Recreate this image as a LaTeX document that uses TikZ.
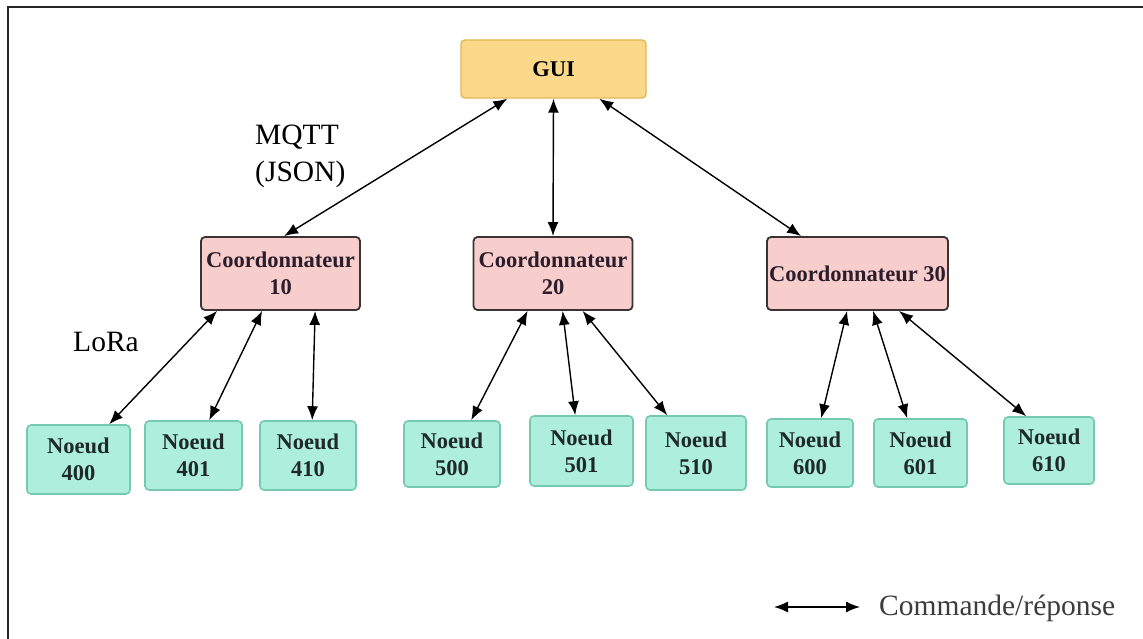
\documentclass[tikz,border=0pt]{standalone}
\usepackage{fontspec}
\setmainfont{Liberation Serif}
\usetikzlibrary{arrows.meta}
\definecolor{guifill}{HTML}{FCD98A}
\definecolor{guiline}{HTML}{E3B650}
\definecolor{cofill}{HTML}{F8CECC}
\definecolor{coline}{HTML}{3A3336}
\definecolor{cotext}{HTML}{2B1D2B}
\definecolor{ndfill}{HTML}{ADEEDD}
\definecolor{ndline}{HTML}{74C9AE}
\definecolor{ndtext}{HTML}{1F2A28}
\definecolor{legtext}{HTML}{3C3C3C}
\tikzset{
  box/.style={rectangle, rounded corners=4pt, inner sep=0pt, align=center,
    font=\fontsize{22.5}{27}\selectfont\bfseries},
  guibox/.style={box, fill=guifill, draw=guiline, line width=1.4pt},
  cobox/.style={box, fill=cofill, draw=coline, line width=1.8pt, text=cotext,
    minimum width=159pt, minimum height=73pt},
  ndbox/.style={box, fill=ndfill, draw=ndline, line width=1.6pt, text=ndtext},
  tip/.style={Latex[length=14pt,width=11pt]},
  link/.style={{Latex[length=14pt,width=11pt]}-{Latex[length=14pt,width=11pt]}, line width=1.4pt, black},
  lbl/.style={font=\fontsize{29.5}{37}\selectfont, text=black, inner sep=0pt}
}
\begin{document}
\begin{tikzpicture}[x=1pt,y=-1pt]
\useasboundingbox (0,0) rectangle (1143,639);
% frame (top and left edges)
\draw[line width=2pt, black!85] (1143,7) -- (8,7) -- (8,639);

% top level
\node[guibox, minimum width=185pt, minimum height=58pt] (gui) at (553.5,69) {GUI};

% coordinators
\node[cobox] (c10) at (280.5,273.5) {Coordonnateur\\10};
\node[cobox] (c20) at (553,273.5) {Coordonnateur\\20};
\node[cobox, minimum width=181pt] (c30) at (857.5,273.5) {Coordonnateur 30};

% end nodes
\node[ndbox, minimum width=103pt, minimum height=69pt] (n400) at (78.5,459.5) {Noeud\\400};
\node[ndbox, minimum width=97pt, minimum height=69pt] (n401) at (193.5,455.5) {Noeud\\401};
\node[ndbox, minimum width=96pt, minimum height=69pt] (n410) at (308,455.5) {Noeud\\410};
\node[ndbox, minimum width=96pt, minimum height=66pt] (n500) at (452,454) {Noeud\\500};
\node[ndbox, minimum width=103pt, minimum height=70pt] (n501) at (581.5,451) {Noeud\\501};
\node[ndbox, minimum width=100pt, minimum height=74pt] (n510) at (696,453) {Noeud\\510};
\node[ndbox, minimum width=86pt, minimum height=68pt] (n600) at (810,453) {Noeud\\600};
\node[ndbox, minimum width=93pt, minimum height=68pt] (n601) at (920.5,453) {Noeud\\601};
\node[ndbox, minimum width=90pt, minimum height=67pt] (n610) at (1049,450.5) {Noeud\\610};

% GUI <-> coordinators (MQTT)
\draw[link] ([xshift=47pt]gui.south west) -- ([xshift=84pt]c10.north west);
\draw[link] (gui.south) -- (c20.north);
\draw[link] ([xshift=139pt]gui.south west) -- ([xshift=35pt]c30.north west);

% coordinators <-> nodes (LoRa)
\draw[link] ([xshift=17pt]c10.south west) -- ([xshift=83pt]n400.north west);
\draw[link] ([xshift=62pt]c10.south west) -- ([xshift=65pt]n401.north west);
\draw[link] ([xshift=115pt]c10.south west) -- ([xshift=53pt]n410.north west);
\draw[link] ([xshift=55pt]c20.south west) -- ([xshift=68pt]n500.north west);
\draw[link] ([xshift=90pt]c20.south west) -- ([xshift=46pt]n501.north west);
\draw[link] ([xshift=110pt]c20.south west) -- ([xshift=22pt]n510.north west);
\draw[link] ([xshift=81pt]c30.south west) -- ([xshift=55pt]n600.north west);
\draw[link] ([xshift=107pt]c30.south west) -- ([xshift=34pt]n601.north west);
\draw[link] ([xshift=133pt]c30.south west) -- ([xshift=23pt]n610.north west);

% protocol labels
\node[lbl, anchor=west, align=left] (mqtt) at (255,156) {MQTT\\(JSON)};
\node[lbl] (lora) at (106,342) {LoRa};

% legend
\coordinate (legA) at (774,607);
\coordinate (legB) at (860,607);
\draw[link] (legA) -- (legB);
\node[lbl, anchor=west, text=legtext] (legtxt) at (879,608) {Commande/réponse};
\end{tikzpicture}
\end{document}
